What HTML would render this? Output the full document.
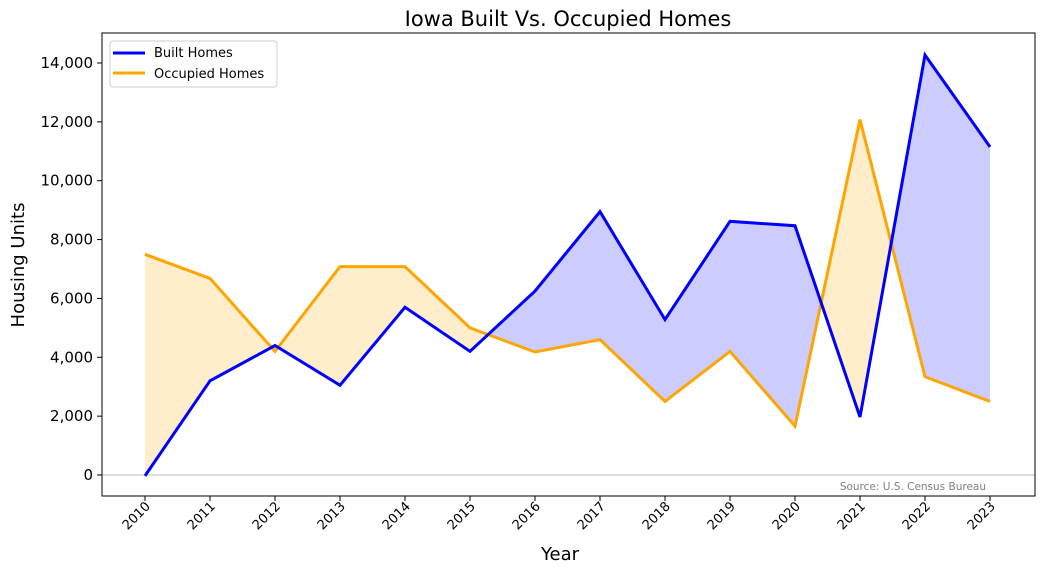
<!DOCTYPE html>
<html><head><meta charset="utf-8"><style>
body{margin:0;background:#fff;}
svg text{font-family:"DejaVu Sans","Liberation Sans",sans-serif;}
</style></head><body>
<svg id="chart" width="1042" height="575">
<text x="568" y="26" font-size="21" text-anchor="middle">Iowa Built Vs. Occupied Homes</text>
<g id="fills"></g>
<line id="zero" x1="102" x2="1035" stroke="#d3d3d3" stroke-width="1.5"/>
<g id="lines"></g>
<g id="axes"></g>
<rect x="102" y="33" width="933" height="463" fill="none" stroke="#000" stroke-width="1"/>
<text x="986" y="490" font-size="10.5" fill="#808080" text-anchor="end">Source: U.S. Census Bureau</text>
<text x="560" y="560" font-size="18" text-anchor="middle">Year</text>
<text transform="translate(24,265) rotate(-90)" font-size="18" text-anchor="middle">Housing Units</text>
<g>
<rect x="110" y="41" width="167" height="46" rx="3" fill="#fff" stroke="#ccc"/>
<line x1="113" x2="145" y1="53" y2="53" stroke="#0000ff" stroke-width="3"/>
<text x="154" y="57" font-size="13">Built Homes</text>
<line x1="113" x2="145" y1="73" y2="73" stroke="#ffa500" stroke-width="3"/>
<text x="154" y="78" font-size="13">Occupied Homes</text>
</g>
</svg>
<script>
const years=[2010,2011,2012,2013,2014,2015,2016,2017,2018,2019,2020,2021,2022,2023];
const built=[-30,3200,4400,3050,5700,4200,6250,8950,5280,8620,8470,1970,14270,11150];
const occupied=[7500,6680,4200,7080,7080,5000,4180,4600,2500,4200,1660,12080,3340,2500];
const yTicks=[0,2000,4000,6000,8000,10000,12000,14000];
const NS="http://www.w3.org/2000/svg";
const X=y=>145+(y-2010)*65;
const Y=v=>475-v*412/14000;
function mk(t,a,p){const e=document.createElementNS(NS,t);for(const k in a)e.setAttribute(k,a[k]);p.appendChild(e);return e;}
const fills=document.getElementById('fills'),lines=document.getElementById('lines'),axes=document.getElementById('axes');
document.getElementById('zero').setAttribute('y1',Y(0));document.getElementById('zero').setAttribute('y2',Y(0));
for(let i=0;i<years.length-1;i++){
 const x0=years[i],x1=years[i+1],b0=built[i],b1=built[i+1],o0=occupied[i],o1=occupied[i+1];
 const d0=b0-o0,d1=b1-o1;
 const poly=(pts,col)=>{const p=mk('polygon',{points:pts.map(q=>X(q[0])+','+Y(q[1])).join(' '),fill:col},fills);
  
  };
 const col=d=>d>0?'#ccccff':'#ffedcc';
 if(d0*d1>=0){poly([[x0,b0],[x1,b1],[x1,o1],[x0,o0]],col(d0+d1));}
 else{const t=d0/(d0-d1),xc=x0+t,yc=b0+t*(b1-b0);
  poly([[x0,b0],[xc,yc],[x0,o0]],col(d0));poly([[xc,yc],[x1,b1],[x1,o1]],col(d1));}
}
const l1=mk('polyline',{points:years.map((y,i)=>X(y)+','+Y(occupied[i])).join(' '),fill:'none',stroke:'#ffa500','stroke-width':3},lines);


const l2=mk('polyline',{points:years.map((y,i)=>X(y)+','+Y(built[i])).join(' '),fill:'none',stroke:'#0000ff','stroke-width':3},lines);


yTicks.forEach(v=>{const y=Y(v);
 const tk=mk('line',{x1:97,x2:102,y1:y,y2:y,stroke:'#000'},axes);
 
 
 const t=mk('text',{x:93,y:y+5,'font-size':15,'text-anchor':'end'},axes);t.textContent=v.toLocaleString('en-US');
 
 });
years.forEach(yr=>{const x=X(yr);
 const tk=mk('line',{x1:x,x2:x,y1:496,y2:501,stroke:'#000'},axes);
 
 
 const t=mk('text',{transform:`translate(${x+6},${507}) rotate(-45)`,'font-size':13,'text-anchor':'end'},axes);t.textContent=yr;
 
 });
</script>
</body></html>
